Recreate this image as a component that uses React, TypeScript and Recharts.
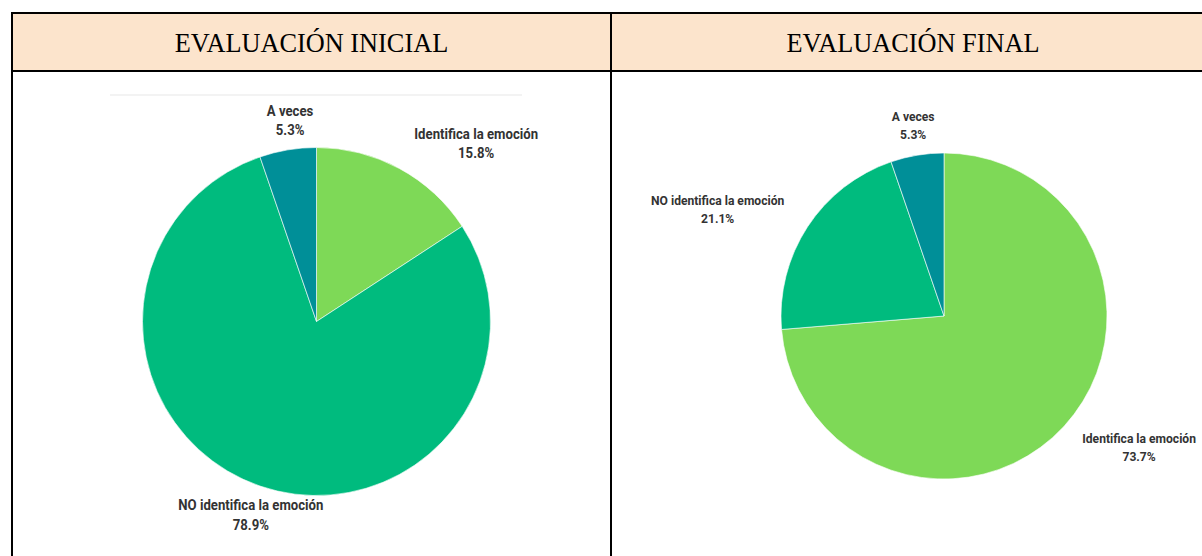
import { PieChart, Pie, Cell } from 'recharts'

// categories & values (students, n = 19)
const categories = ['Identifica la emoción', 'NO identifica la emoción', 'A veces']
const initialValues = [3, 15, 1]
const finalValues = [14, 4, 1]
const headers = ['EVALUACIÓN INICIAL', 'EVALUACIÓN FINAL']

const colors = ['#7ed957', '#00bb7e', '#008f98']

const initialData = categories.map((name, i) => ({ name, value: initialValues[i] }))
const finalData = categories.map((name, i) => ({ name, value: finalValues[i] }))

// label placement: angle shift (deg) from the slice mid angle, distance as a factor of the radius
const initialLabelPos = [
	{ shift: -13.4, factor: 1.376 },
	{ shift: 0.2, factor: 1.174 },
	{ shift: -2, factor: 1.167 },
]
const finalLabelPos = [
	{ shift: 8.8, factor: 1.441 },
	{ shift: 8, factor: 1.534 },
	{ shift: -0.3, factor: 1.187 },
]

const RAD = Math.PI / 180
const labelFont = "Roboto, 'DejaVu Sans Condensed', sans-serif"

// Roboto squeezed a bit to look like the condensed face of the original
const makeLabel = (pos: { shift: number; factor: number }[], fontSize: number, lineGap: number) => {
	return (props: any) => {
		const { cx, cy, midAngle, outerRadius, percent, name, index } = props
		const p = pos[index]
		const a = (midAngle + p.shift) * RAD
		const r = outerRadius * p.factor
		const x = cx + r * Math.cos(a)
		const y = cy - r * Math.sin(a)
		return (
			<text
				transform={`translate(${x},${y}) scale(0.89,1)`}
				textAnchor="middle"
				fill="#333"
				fontFamily={labelFont}
				fontWeight="bold"
				fontSize={fontSize}
			>
				<tspan x={0} y={-lineGap / 2 + fontSize * 0.35}>{name}</tspan>
				<tspan x={0} y={lineGap / 2 + fontSize * 0.35}>{(percent * 100).toFixed(1)}%</tspan>
			</text>
		)
	}
}

const line = '#000'

export default function App() {
	return (
		<div
			style={{
				position: 'absolute',
				left: 0,
				top: 0,
				width: 1202,
				height: 556,
				overflow: 'hidden',
				background: '#fff',
			}}
		>
			{/* header row */}
			<div style={{ position: 'absolute', left: 11, top: 12, width: 1300, height: 60, background: '#fce4cc' }} />
			{/* grid lines */}
			<div style={{ position: 'absolute', left: 11, top: 12, width: 1300, height: 2, background: line }} />
			<div style={{ position: 'absolute', left: 11, top: 70, width: 1300, height: 2, background: line }} />
			<div style={{ position: 'absolute', left: 11, top: 12, width: 2, height: 600, background: line }} />
			<div style={{ position: 'absolute', left: 610, top: 12, width: 2, height: 600, background: line }} />
			{headers.map((h, i) => (
				<div
					key={h}
					style={{
						position: 'absolute',
						left: i === 0 ? 13 : 612,
						top: 16,
						width: i === 0 ? 597 : 602,
						height: 56,
						display: 'flex',
						alignItems: 'center',
						justifyContent: 'center',
						fontFamily: "'Liberation Serif', 'Times New Roman', serif",
						fontSize: 26.3,
						color: '#000',
					}}
				>
					{h}
				</div>
			))}
			{/* faint remnant of the original chart title */}
			<div style={{ position: 'absolute', left: 110, top: 94, width: 412, height: 2, background: '#f3f3f3' }} />

			<div style={{ position: 'absolute', left: 13, top: 72 }}>
				<PieChart width={597} height={484} margin={{ top: 0, right: 0, bottom: 0, left: 0 }} style={{ overflow: 'visible' }}>
					<Pie
						data={initialData}
						dataKey="value"
						nameKey="name"
						cx={303.5}
						cy={249.5}
						outerRadius={174}
						startAngle={90}
						endAngle={-270}
						stroke="#ffffff"
						strokeWidth={0.6}
						label={makeLabel(initialLabelPos, 14.8, 19.5)}
						labelLine={false}
						isAnimationActive={false}
					>
						{initialData.map((d, i) => (
							<Cell key={d.name} fill={colors[i]} />
						))}
					</Pie>
				</PieChart>
			</div>

			<div style={{ position: 'absolute', left: 612, top: 72 }}>
				<PieChart width={600} height={484} margin={{ top: 0, right: 0, bottom: 0, left: 0 }} style={{ overflow: 'visible' }}>
					<Pie
						data={finalData}
						dataKey="value"
						nameKey="name"
						cx={332}
						cy={244}
						outerRadius={163}
						startAngle={90}
						endAngle={-270}
						stroke="#ffffff"
						strokeWidth={0.6}
						label={makeLabel(finalLabelPos, 13.6, 18)}
						labelLine={false}
						isAnimationActive={false}
					>
						{finalData.map((d, i) => (
							<Cell key={d.name} fill={colors[i]} />
						))}
					</Pie>
				</PieChart>
			</div>
		</div>
	)
}
